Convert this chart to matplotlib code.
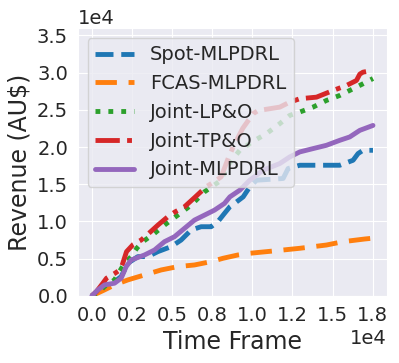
import numpy as np
import matplotlib
matplotlib.use("Agg")
import matplotlib.pyplot as plt
import matplotlib.ticker as mticker
import seaborn as sns

# revenue curves (time frame, revenue in AU$)
spot_t = [0, 400, 997, 1413, 1827, 2243, 2866, 3489, 4112, 4940, 5563, 6188, 6810, 7433,
          7850, 8265, 8600, 8890, 9430, 9845, 10260, 11920, 12230, 12958, 15450, 16280,
          16590, 16900, 17520]
spot_v = [0, 700, 1700, 1900, 2590, 4380, 5270, 5270, 5940, 6610, 7500, 8840, 9290, 9290,
          9960, 11080, 11970, 12420, 13300, 14650, 15540, 15770, 17110, 17550, 17550, 18220,
          19120, 19560, 19560]

fcas_t = [0, 789, 1413, 2243, 3280, 4320, 5358, 6396, 7433, 8180, 9096, 9845, 11510, 12958,
          14620, 15660, 17010, 17520]
fcas_v = [0, 800, 1470, 2140, 2810, 3480, 3930, 4150, 4600, 5050, 5490, 5720, 6070, 6390,
          6830, 7280, 7640, 7750]

lpo_t = [0, 400, 789, 1413, 2035, 2450, 2800, 3177, 3904, 4527, 5358, 6188, 7020, 7500, 8060,
         8390, 9220, 10000, 10880, 11712, 12335, 12958, 13790, 14620, 15450, 16280, 16900, 17520]
lpo_v = [0, 400, 1250, 2150, 4380, 5270, 6400, 7280, 8400, 9510, 10850, 12190, 13980, 14700,
         15540, 17330, 19560, 20700, 21800, 23140, 24250, 24700, 25370, 26260, 26930, 27830,
         28500, 29200]

tpo_t = [0, 290, 685, 914, 1413, 1744, 1900, 2160, 2575, 3073, 3500, 4112, 4735, 5200, 5773,
         6400, 7124, 7600, 8060, 8500, 8805, 9400, 10050, 10360, 11712, 12300, 12958, 14000,
         15036, 15867, 16490, 16700, 16900, 17520]
tpo_v = [0, 580, 1700, 2370, 3000, 3480, 4200, 5940, 6900, 7500, 8300, 9500, 10630, 11300,
         11970, 13200, 14650, 15300, 16000, 18500, 20000, 22500, 24480, 24900, 25360, 26000,
         26490, 26700, 27600, 28270, 28940, 29800, 30060, 30300]

mlp_t = [0, 374, 789, 1413, 1827, 2140, 2450, 3280, 3904, 4527, 5150, 5773, 6396, 7020, 7643,
         8265, 8600, 9220, 9845, 10670, 11712, 12335, 12958, 13790, 14620, 15450, 16070, 16700,
         17520]
mlp_v = [0, 800, 1470, 1700, 2370, 3930, 4820, 5490, 6160, 7280, 7950, 9070, 10180, 10850,
         11520, 12420, 13300, 14200, 15540, 16880, 17780, 18670, 19340, 19790, 20230, 20900,
         21350, 22240, 22900]


class OneDecimal(mticker.ScalarFormatter):
    def _set_format(self):
        self.format = '%.1f'


sns.set_style("darkgrid")

fig, ax = plt.subplots(figsize=(3.99, 3.63), dpi=100)
fig.subplots_adjust(left=0.195, right=0.970, top=0.923, bottom=0.185)

lw = 3.5
ax.plot(spot_t, spot_v, '--', lw=lw, color='tab:blue', label='Spot-MLPDRL')
ax.plot(fcas_t, fcas_v, lw=lw, color='tab:orange', dashes=(4.4, 2.4), label='FCAS-MLPDRL')
ax.plot(lpo_t, lpo_v, ':', lw=lw, color='tab:green', label='Joint-LP&O')
ax.plot(tpo_t, tpo_v, lw=lw, color='tab:red', dashes=(5, 1.5, 1, 1.5), label='Joint-TP&O')
ax.plot(mlp_t, mlp_v, '-', lw=lw, color='tab:purple', label='Joint-MLPDRL')

ax.set_ylim(0, 36000)
ax.xaxis.set_major_locator(mticker.MultipleLocator(2500))
ax.yaxis.set_major_locator(mticker.MultipleLocator(5000))
for axis in (ax.xaxis, ax.yaxis):
    f = OneDecimal()
    f.set_powerlimits((0, 0))
    axis.set_major_formatter(f)
ax.tick_params(labelsize=14)
ax.xaxis.get_offset_text().set_fontsize(14)
ax.yaxis.get_offset_text().set_fontsize(14)

ax.set_xlabel('Time Frame', fontsize=17)
ax.set_ylabel('Revenue (AU$)', fontsize=17)
ax.legend(loc='upper left', fontsize=14)

fig.savefig('out.png', dpi=100)
